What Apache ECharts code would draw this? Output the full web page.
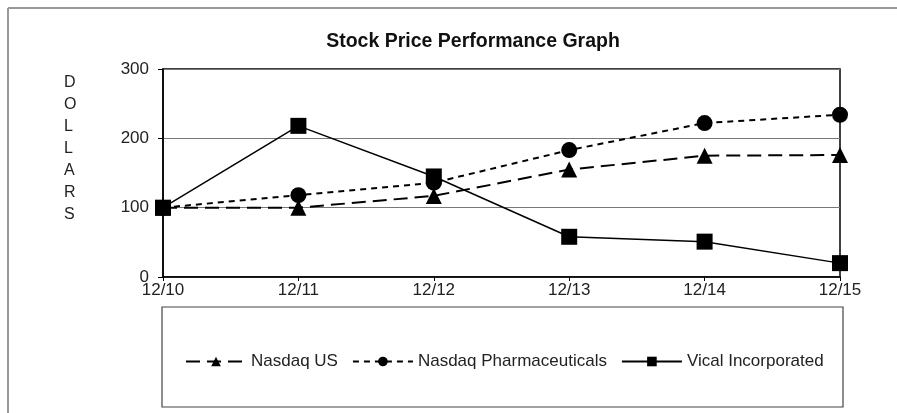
<!DOCTYPE html>
<html>
<head>
<meta charset="utf-8">
<script src="https://cdn.jsdelivr.net/npm/echarts@6/dist/echarts.min.js"></script>
<style>
  html, body { margin: 0; padding: 0; background: #fff; }
  #chart { width: 897px; height: 413px; }
</style>
</head>
<body>
<div id="chart"></div>
<script>
// data
const years = ['12/10', '12/11', '12/12', '12/13', '12/14', '12/15'];
const nasdaqUS = [100, 100, 117, 155, 175, 176];
const nasdaqPharma = [100, 118, 136, 183, 222, 234];
const vical = [100, 218, 145, 58, 51, 20];
const yTicks = [0, 100, 200, 300];

const font = 'Liberation Sans, Arial, sans-serif';
const chart = echarts.init(document.getElementById('chart'));

chart.setOption({
  animation: false,
  backgroundColor: '#fff',
  textStyle: { fontFamily: font, color: '#111' },
  title: {
    text: 'Stock Price Performance Graph',
    left: 468,
    top: 27,
    textAlign: 'center',
    textStyle: { fontFamily: font, fontSize: 19.5, fontWeight: 'bold', color: '#111' }
  },
  grid: {
    left: 163, right: 57, top: 69, bottom: 136,
    show: true, borderColor: '#000', borderWidth: 1.5
  },
  legend: {
    left: 180,
    top: 348,
    itemWidth: 60,
    itemHeight: 12,
    itemGap: 14,
    textStyle: { fontFamily: font, fontSize: 17, color: '#222' },
    data: ['Nasdaq US', 'Nasdaq Pharmaceuticals', 'Vical Incorporated']
  },
  xAxis: {
    type: 'category',
    data: years,
    boundaryGap: false,
    axisLine: { lineStyle: { color: '#000', width: 1.5 } },
    axisTick: { show: true, length: 4, lineStyle: { color: '#000' } },
    axisLabel: { fontFamily: font, fontSize: 17, color: '#222', margin: 5 }
  },
  yAxis: {
    type: 'value',
    min: 0, max: 300, interval: 100,
    axisLine: { show: true, lineStyle: { color: '#000', width: 1.5 } },
    axisTick: { show: true, length: 5, lineStyle: { color: '#000' } },
    axisLabel: {
      fontFamily: font, fontSize: 17, color: '#222', margin: 14,
      formatter: v => (yTicks.indexOf(v) >= 0 ? String(v) : '')
    },
    splitLine: { show: true, lineStyle: { color: '#777', width: 1.2 } }
  },
  series: [
    {
      name: 'Nasdaq US',
      type: 'line',
      data: nasdaqUS,
      symbol: 'triangle',
      symbolSize: 16,
      itemStyle: { color: '#000' },
      lineStyle: { color: '#000', width: 2, type: [14, 7] }
    },
    {
      name: 'Nasdaq Pharmaceuticals',
      type: 'line',
      data: nasdaqPharma,
      symbol: 'circle',
      symbolSize: 16,
      itemStyle: { color: '#000' },
      lineStyle: { color: '#000', width: 2, type: [6, 5] }
    },
    {
      name: 'Vical Incorporated',
      type: 'line',
      data: vical,
      symbol: 'rect',
      symbolSize: 16,
      itemStyle: { color: '#000' },
      lineStyle: { color: '#000', width: 1.5, type: 'solid' },
      z: 3
    }
  ],
  graphic: [
    // outer frame (top and left edges only)
    { type: 'line', shape: { x1: 8, y1: 8, x2: 897, y2: 8 }, style: { stroke: '#777', lineWidth: 1.5 } },
    { type: 'line', shape: { x1: 8, y1: 8, x2: 8, y2: 413 }, style: { stroke: '#999', lineWidth: 2 } },
    // legend box
    { type: 'rect', shape: { x: 162, y: 307, width: 681, height: 100 }, style: { fill: 'none', stroke: '#444', lineWidth: 1.2 }, z: -1 },
    // vertical axis title
    {
      type: 'text', left: 64, top: 72,
      style: {
        text: 'D\nO\nL\nL\nA\nR\nS',
        font: '16px ' + font,
        fill: '#222',
        lineHeight: 22,
        align: 'center'
      }
    }
  ]
});
</script>
</body>
</html>
